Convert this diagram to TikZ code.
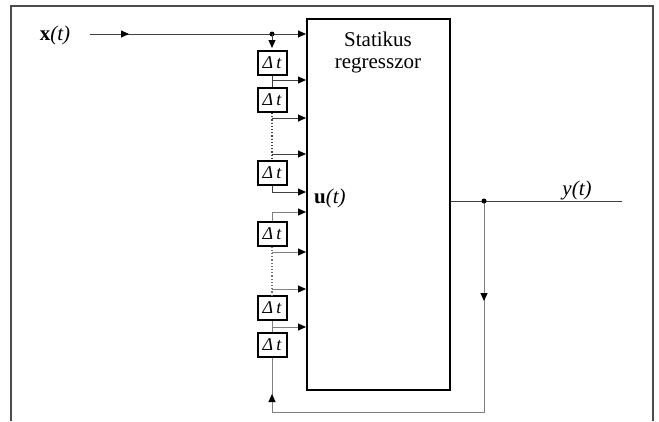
\documentclass[tikz,border=0pt]{standalone}
\usepackage{fontspec}
\setmainfont{Liberation Serif}
\usetikzlibrary{arrows.meta}
\begin{document}
\begin{tikzpicture}[x=1pt,y=-1pt,
  conn/.style={line width=1pt, draw=black!75},
  connl/.style={line width=1pt, draw=black!50},
  arr/.style={-{Triangle[length=8pt,width=7pt,color=black]}},
  delay/.style={draw, line width=2pt, minimum width=29pt, minimum height=24pt, inner sep=0pt, font=\fontsize{18}{18}\selectfont\itshape},
  dot/.style={circle, fill, inner sep=0pt, minimum size=5pt},
  lbl/.style={font=\fontsize{21}{22}\selectfont, inner sep=0pt}]
\useasboundingbox (0,0) rectangle (659,421);
\draw[line width=1.6pt, black!70] (11,421) -- (11,6) -- (653,6) -- (653,421);
% main block
\node[draw, line width=2pt, minimum width=143pt, minimum height=371pt, inner sep=0pt] (main) at (378.5,204.5) {};
\node[lbl, align=center] (title) at (378,52) {Statikus\\regresszor};
% labels
\node[lbl] (xlab) at (55,35) {\textbf{x}\textit{(t)}};
\node[lbl, anchor=west] (ulab) at (314,198) {\textbf{u}\textit{(t)}};
\node[lbl, anchor=base] (ylab) at (577,195) {\textit{y(t)}};
% delays
\node[delay] (d1) at (272,63) {Δ\,t};
\node[delay] (d2) at (272,100) {Δ\,t};
\node[delay] (d3) at (272,172.5) {Δ\,t};
\node[delay] (d4) at (272,233.5) {Δ\,t};
\node[delay] (d5) at (272,308) {Δ\,t};
\node[delay] (d6) at (272,345) {Δ\,t};
% coordinates
\coordinate (xin) at (90,34);
\coordinate (xmid) at (129,34);
\coordinate (j) at (272,34);
\coordinate (t1) at (272,80);
\coordinate (t2) at (272,118);
\coordinate (t3) at (272,154);
\coordinate (t4) at (272,192);
\coordinate (t5) at (272,212);
\coordinate (t6) at (272,252);
\coordinate (t7) at (272,289);
\coordinate (t8) at (272,327);
\coordinate (yend) at (622,201);
\coordinate (fb) at (484,201);
\coordinate (fbmid) at (484,301);
\coordinate (fbc) at (484,412);
\coordinate (fbl) at (272,412);
\coordinate (upmid) at (272,394);
% input
\draw[conn] (xin) -- (j);
\draw[conn,arr] (xin) -- (xmid);
\draw[conn,arr] (j) -- (main.west |- j);
\node[dot] (jd) at (j) {};
\draw[conn,arr,shorten >=2pt] (j) -- (d1.north);
% upper chain
\draw[conn,arr] (d1.south) |- (main.west |- t1);
\draw[conn] (d1.south) -- (d2.north);
\draw[black!75, line width=1.2pt, dotted] (d2.south) -- (d3.north);
\draw[conn,arr] (t2) -- (main.west |- t2);
\draw[conn,arr] (t3) -- (main.west |- t3);
\draw[conn,arr] (d3.south) |- (main.west |- t4);
% lower chain
\draw[connl,arr] (d4.north) |- (main.west |- t5);
\draw[black!55, line width=1.2pt, dotted] (d4.south) -- (d5.north);
\draw[connl,arr] (t6) -- (main.west |- t6);
\draw[connl,arr] (t7) -- (main.west |- t7);
\draw[connl] (d5.south) -- (d6.north);
\draw[connl,arr] (t8) -- (main.west |- t8);
% output and feedback
\draw[conn] (main.east |- yend) -- (yend);
\draw[connl] (fb) -- (fbc) -- (fbl) -- (d6.south);
\draw[connl,arr] (fb) -- (fbmid);
\draw[connl,arr] (fbl) -- (upmid);
\node[dot] (fbd) at (fb) {};
\end{tikzpicture}
\end{document}
